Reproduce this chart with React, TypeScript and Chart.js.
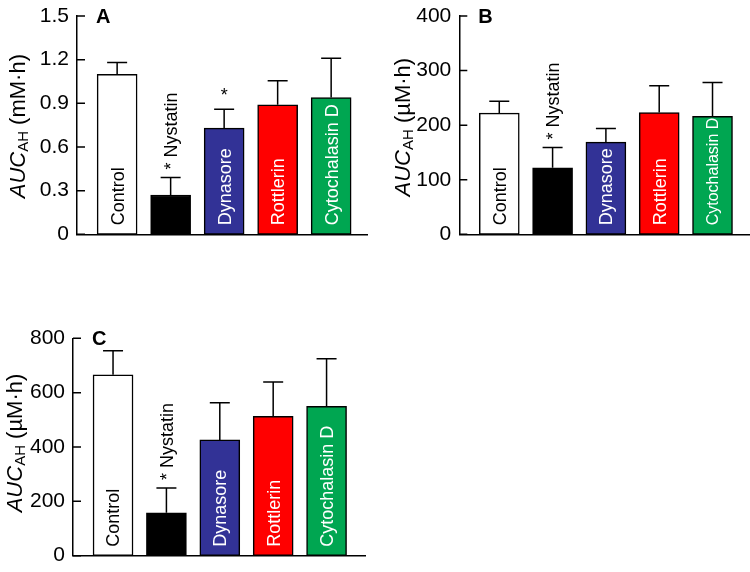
import React, { useEffect, useRef } from "react";
import { Chart, registerables } from "chart.js";

Chart.register(...registerables);

const categories = ["Control", "Nystatin", "Dynasore", "Rottlerin", "Cytochalasin D"];
const barColors = ["#ffffff", "#000000", "#323296", "#ff0000", "#00a651"];
const labelColors = ["#000000", "#000000", "#ffffff", "#ffffff", "#ffffff"];
const labelInside = [true, false, true, true, true];

const meanA = [1.1, 0.27, 0.73, 0.89, 0.94];
const semA = [0.08, 0.12, 0.13, 0.165, 0.27];
const sigA = ["", "*", "*", "", ""];
const ticksA = [0, 0.3, 0.6, 0.9, 1.2, 1.5];

const meanB = [222, 122, 169, 223, 216];
const semB = [22, 37, 25, 49, 62];
const sigB = ["", "*", "", "", ""];
const ticksB = [0, 100, 200, 300, 400];

const meanC = [666, 158, 426, 513, 550];
const semC = [88, 91, 137, 126, 175];
const sigC = ["", "*", "", "", ""];
const ticksC = [0, 200, 400, 600, 800];

const FONT = '"Liberation Sans", Arial, Helvetica, sans-serif';

type Panel = {
  letter: string;
  unit: string;
  means: number[];
  sems: number[];
  sig: string[];
  ticks: number[];
  labelSizes: number[];
  left: number;
  top: number;
  width: number;
  height: number;
  axisLeft: number;
  padTop: number;
  padRight: number;
  padBottom: number;
  xmax: number;
  titleX: number;
  titleDy: number;
};

const panels: Panel[] = [
  { letter: "A", unit: " (mM·h)", means: meanA, sems: semA, sig: sigA, ticks: ticksA,
    labelSizes: [18, 18, 18, 18, 18],
    left: 0, top: 0, width: 375, height: 250, axisLeft: 77, padTop: 16, padRight: 8, padBottom: 15.7,
    xmax: 4.67, titleX: 25, titleDy: 1 },
  { letter: "B", unit: " (µM·h)", means: meanB, sems: semB, sig: sigB, ticks: ticksB,
    labelSizes: [18, 18, 18, 18, 16],
    left: 380, top: 0, width: 370, height: 250, axisLeft: 79.3, padTop: 16, padRight: 0.7, padBottom: 15.7,
    xmax: 4.69, titleX: 30, titleDy: 2 },
  { letter: "C", unit: " (µM·h)", means: meanC, sems: semC, sig: sigC, ticks: ticksC,
    labelSizes: [18, 18, 18, 18, 18],
    left: 0, top: 270, width: 375, height: 302, axisLeft: 73, padTop: 68.3, padRight: 10, padBottom: 16.3,
    xmax: 4.72, titleX: 21.7, titleDy: -4 },
];

function panelPlugin(p: Panel) {
  return {
    id: "panel" + p.letter,
    afterDatasetsDraw(chart: any) {
      const { ctx, scales } = chart;
      const x = scales.x;
      const y = scales.y;
      ctx.save();
      ctx.strokeStyle = "#000";
      ctx.lineWidth = 1.5;
      ctx.beginPath();
      p.means.forEach((m, i) => {
        const cx = x.getPixelForValue(i);
        const y0 = y.getPixelForValue(m);
        const y1 = y.getPixelForValue(m + p.sems[i]);
        ctx.moveTo(cx, y0);
        ctx.lineTo(cx, y1);
        ctx.moveTo(cx - 10, y1);
        ctx.lineTo(cx + 10, y1);
      });
      const left = chart.chartArea.left;
      p.ticks.forEach((v) => {
        const ty = y.getPixelForValue(v);
        ctx.moveTo(left, ty);
        ctx.lineTo(left + 8, ty);
      });
      ctx.stroke();
      ctx.restore();
    },
    afterDraw(chart: any) {
      const { ctx, scales, chartArea } = chart;
      const x = scales.x;
      const y = scales.y;
      ctx.save();
      ctx.textAlign = "left";
      ctx.textBaseline = "alphabetic";
      categories.forEach((cat, i) => {
        const size = p.labelSizes[i];
        ctx.font = size + "px " + FONT;
        const capOff = size * 0.358;
        const cx = x.getPixelForValue(i);
        ctx.fillStyle = labelColors[i];
        let text = cat;
        let anchorY: number;
        if (labelInside[i]) {
          anchorY = chartArea.bottom - 9;
        } else {
          anchorY = y.getPixelForValue(p.means[i] + p.sems[i]) - 8;
          if (p.sig[i]) text = p.sig[i] + " " + cat;
        }
        ctx.save();
        ctx.translate(cx, anchorY);
        ctx.rotate(-Math.PI / 2);
        ctx.fillText(text, 0, capOff);
        ctx.restore();
        if (labelInside[i] && p.sig[i]) {
          ctx.fillStyle = "#000";
          ctx.textAlign = "center";
          ctx.fillText(p.sig[i], cx, y.getPixelForValue(p.means[i] + p.sems[i]) - 8);
          ctx.textAlign = "left";
        }
      });
      ctx.fillStyle = "#000";
      ctx.font = "bold 20px " + FONT;
      ctx.fillText(p.letter, chartArea.left + 19, chartArea.top + 6.5);
      const mainFont = "22px " + FONT;
      const italFont = "italic 22px " + FONT;
      const subFont = "15px " + FONT;
      ctx.font = italFont;
      const w1 = ctx.measureText("AUC").width;
      ctx.font = subFont;
      const w2 = ctx.measureText("AH").width;
      ctx.font = mainFont;
      const w3 = ctx.measureText(p.unit).width;
      const total = w1 + w2 + w3;
      const cy = (chartArea.top + chartArea.bottom) / 2 + p.titleDy;
      ctx.translate(p.titleX, cy);
      ctx.rotate(-Math.PI / 2);
      let u = -total / 2;
      ctx.font = italFont;
      ctx.fillText("AUC", u, 0);
      u += w1;
      ctx.font = subFont;
      ctx.fillText("AH", u, 3);
      u += w2;
      ctx.font = mainFont;
      ctx.fillText(p.unit, u, 0);
      ctx.restore();
    },
  };
}

function makeConfig(p: Panel): any {
  return {
    type: "bar",
    data: {
      datasets: [
        {
          data: p.means.map((v, i) => ({ x: i, y: v })),
          backgroundColor: barColors,
          borderColor: "#000",
          borderWidth: 1.5,
          borderSkipped: false,
          barThickness: 40,
        },
      ],
    },
    options: {
      animation: false,
      responsive: false,
      devicePixelRatio: 1,
      layout: { padding: { left: 0, right: p.padRight, top: p.padTop, bottom: p.padBottom } },
      plugins: { legend: { display: false }, tooltip: { enabled: false }, title: { display: false } },
      scales: {
        x: {
          type: "linear",
          min: -0.75,
          max: p.xmax,
          offset: false,
          grid: { display: false, drawTicks: false, offset: false },
          ticks: { display: false },
          border: { display: true, color: "#000", width: 1.5 },
          afterFit: (s: any) => {
            s.height = 0;
            s.paddingLeft = 0;
            s.paddingRight = 0;
          },
        },
        y: {
          type: "linear",
          min: 0,
          max: p.ticks[p.ticks.length - 1],
          afterBuildTicks: (s: any) => {
            s.ticks = p.ticks.map((v) => ({ value: v }));
          },
          ticks: {
            font: { family: FONT, size: 21 },
            color: "#000",
            padding: 8,
            callback: (v: any) => String(v),
          },
          grid: { display: false, drawTicks: false },
          border: { display: true, color: "#000", width: 1.5 },
          afterFit: (s: any) => {
            s.width = p.axisLeft;
            s.paddingTop = 0;
            s.paddingBottom = 0;
          },
        },
      },
    },
    plugins: [panelPlugin(p)],
  };
}

function PanelChart({ p }: { p: Panel }) {
  const ref = useRef<HTMLCanvasElement | null>(null);
  useEffect(() => {
    if (!ref.current) return;
    const chart = new Chart(ref.current, makeConfig(p));
    return () => chart.destroy();
  }, [p]);
  return (
    <canvas
      ref={ref}
      width={p.width}
      height={p.height}
      style={{ position: "absolute", left: p.left, top: p.top, width: p.width, height: p.height }}
    />
  );
}

export default function App() {
  return (
    <div style={{ position: "absolute", left: 0, top: 0, width: 750, height: 572, background: "#fff" }}>
      {panels.map((p) => (
        <PanelChart key={p.letter} p={p} />
      ))}
    </div>
  );
}
